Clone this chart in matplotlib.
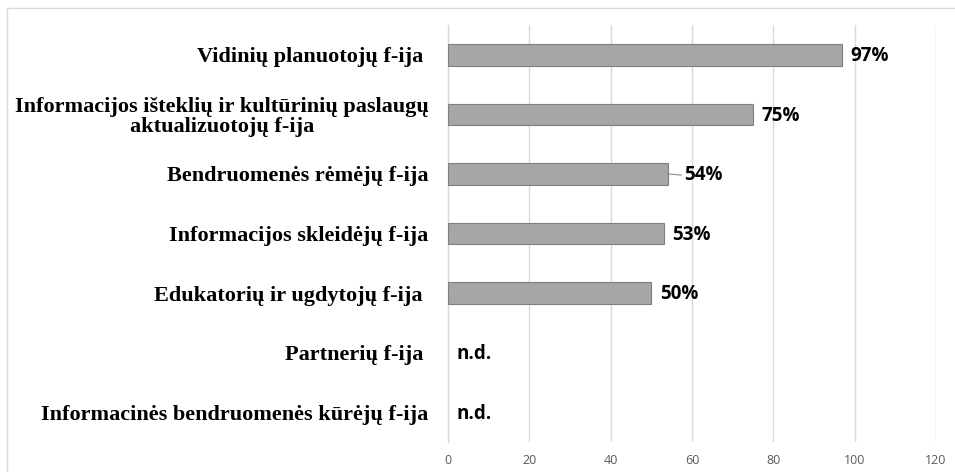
import matplotlib.pyplot as plt
from matplotlib.patches import Rectangle

categories = [
    "Vidinių planuotojų f-ija ",
    "Informacijos išteklių ir kultūrinių paslaugų\naktualizuotojų f-ija",
    "Bendruomenės rėmėjų f-ija",
    "Informacijos skleidėjų f-ija",
    "Edukatorių ir ugdytojų f-ija ",
    "Partnerių f-ija ",
    "Informacinės bendruomenės kūrėjų f-ija",
]
values = [97, 75, 54, 53, 50, None, None]
value_labels = ["97%", "75%", "54%", "53%", "50%", "n.d.", "n.d."]
x_ticks = [0, 20, 40, 60, 80, 100, 120]

fig = plt.figure(figsize=(9.55, 4.72), dpi=100)
ax = fig.add_axes([448 / 955, 1 - 442 / 472, (936 - 448) / 955, (442 - 25) / 472])

# light frame around the whole chart
fig.patches.append(Rectangle((7 / 955, -0.1), 1.2, 1 - 8 / 472 + 0.1,
                             transform=fig.transFigure, fill=False,
                             edgecolor="#d9d9d9", linewidth=1.0))

y = list(range(len(categories)))
bar_y = [i for i, v in zip(y, values) if v is not None]
bar_vals = [v for v in values if v is not None]
ax.barh(bar_y, bar_vals, height=0.36, color="#a6a6a8", edgecolor="#7f7f7f", linewidth=0.8, zorder=3)

for i, (v, lab) in enumerate(zip(values, value_labels)):
    xv = v if v is not None else 0
    if lab == "54%":
        # label pushed out a bit, with a leader line like in the original
        ax.annotate(lab, xy=(xv, i), xytext=(12, -1), textcoords="offset points",
                    ha="left", va="center", fontsize=13.5, fontweight="bold",
                    family="Open Sans",
                    arrowprops=dict(arrowstyle="-", color="#8c8c8c", lw=0.8,
                                    shrinkA=0, shrinkB=0, relpos=(0, 0.5)))
    else:
        ax.annotate(lab, xy=(xv, i), xytext=(6, -1), textcoords="offset points",
                    ha="left", va="center", fontsize=13.5, fontweight="bold",
                    family="Open Sans")

ax.set_xlim(0, 120)
ax.set_ylim(len(categories) - 0.5, -0.5)
ax.set_xticks(x_ticks)
ax.set_xticklabels([str(t) for t in x_ticks], fontsize=9, color="#595959", family="Open Sans")
ax.set_yticks(y)
ax.set_yticklabels(categories, fontsize=16, fontweight="bold", family="Liberation Serif",
                   multialignment="center", linespacing=1.0)
ax.tick_params(axis="x", length=0, pad=9)
ax.tick_params(axis="y", length=0, pad=14)

ax.grid(True, axis="x", color="#d9d9d9", linewidth=1.0, zorder=0)
for side in ["top", "right", "bottom"]:
    ax.spines[side].set_visible(False)
ax.spines["left"].set_color("#d9d9d9")
ax.spines["left"].set_linewidth(1.0)

plt.savefig("out.png", dpi=100)
plt.close()
